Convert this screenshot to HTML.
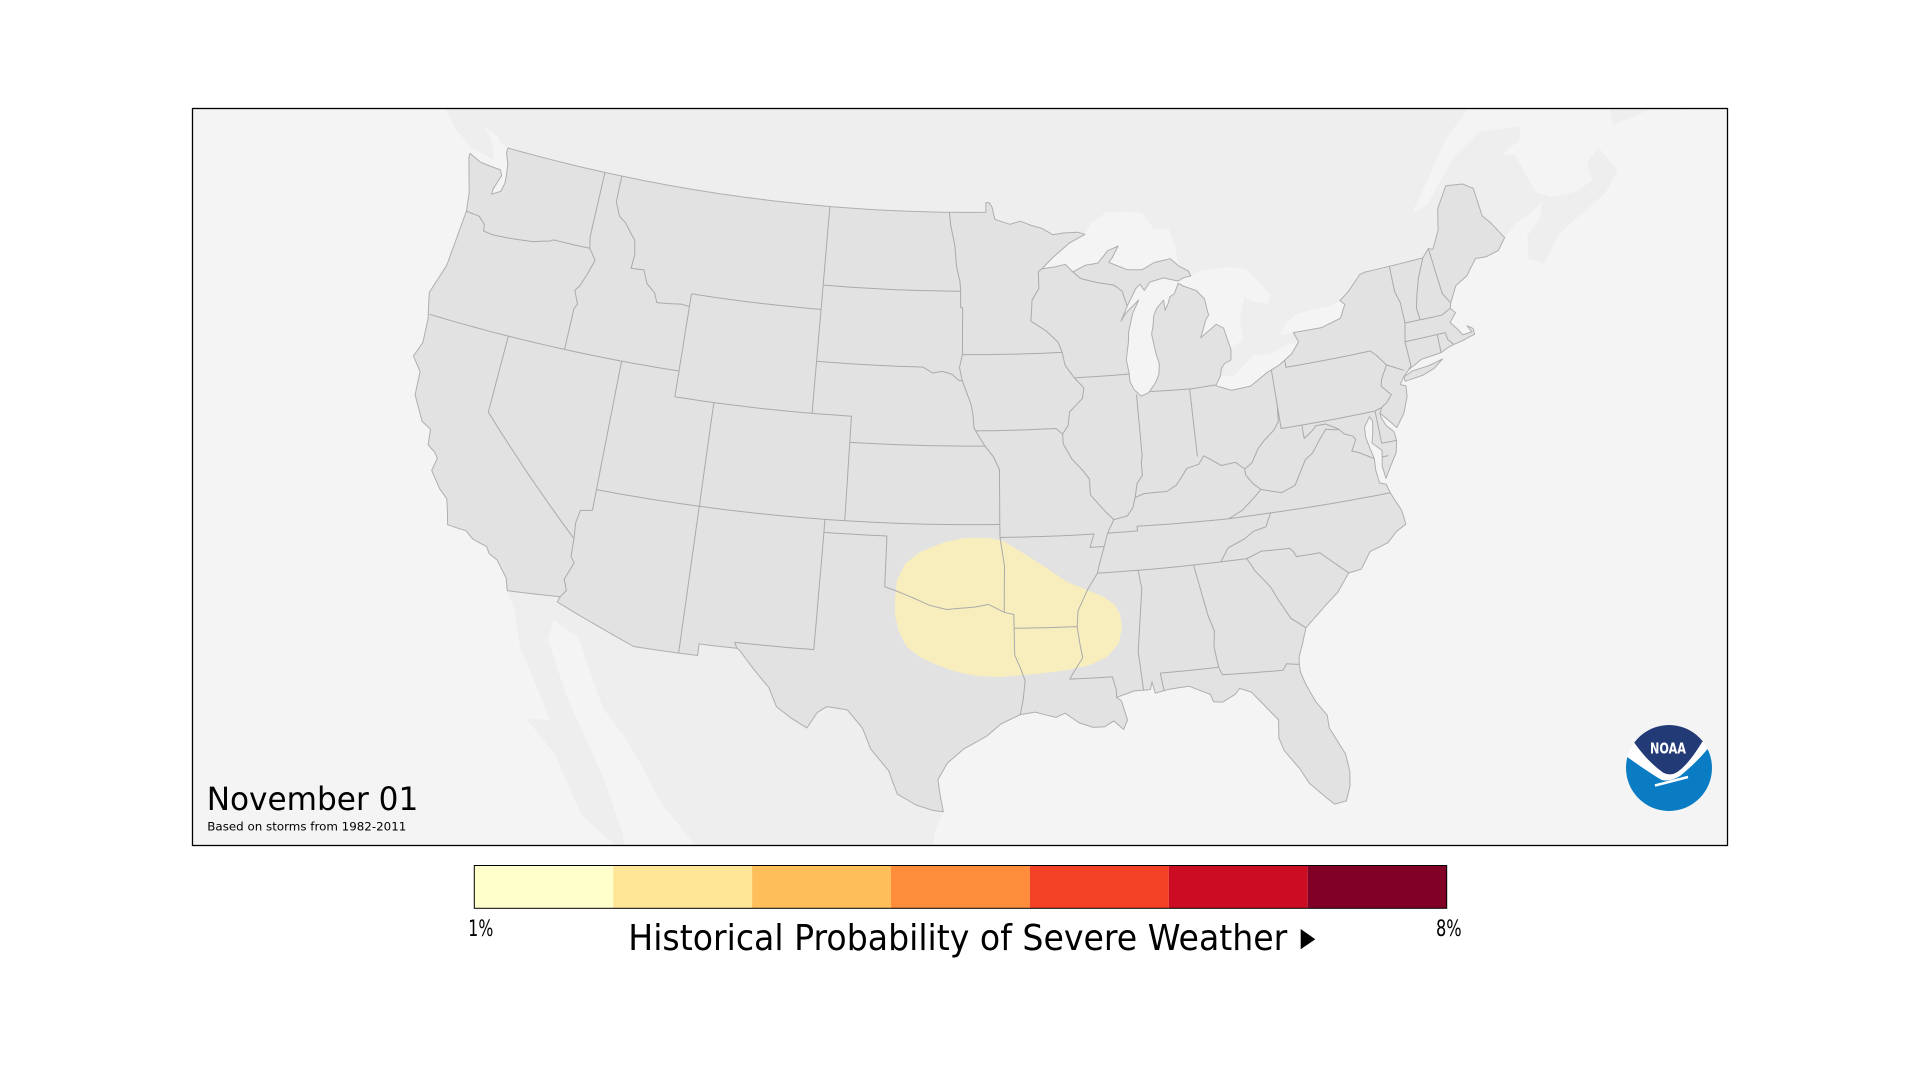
<!DOCTYPE html>
<html>
<head>
<meta charset="utf-8">
<style>
html,body{margin:0;padding:0;background:#fff;width:1920px;height:1080px;overflow:hidden}
svg{display:block}
text{font-family:"DejaVu Sans","Liberation Sans",sans-serif;fill:#000}
</style>
</head>
<body>
<svg id="s" width="1920" height="1080" viewBox="0 0 1920 1080" xmlns="http://www.w3.org/2000/svg">
<defs>
<clipPath id="fr"><rect x="193" y="109" width="1534" height="736"/></clipPath>
<clipPath id="lc"><circle cx="1669" cy="768" r="43"/></clipPath>
</defs>
<rect x="0" y="0" width="1920" height="1080" fill="#ffffff"/>
<g clip-path="url(#fr)">
<rect x="193" y="109" width="1534" height="736" fill="#f4f4f4"/>
<path id="can" fill="#eeeeee" d=""/>
<path id="mex" fill="#eeeeee" d=""/>
<path id="isl" fill="#eeeeee" d=""/>
<path id="lakes" fill="#f4f4f4" d=""/>
<path id="us" fill="#e2e2e2" stroke="#afafaf" stroke-width="1" stroke-linejoin="round" d=""/>
<path id="blob" fill="#f8eebd" d="M990,538 L1003,541 L1023,553 L1045,567 L1067,582 L1087,590 L1104,597 L1114,604 L1120,614 L1122,627 L1119,643 L1107,657 L1090,665 L1067,670 L1045,673 L1023,675 L1000,677 L977,676 L957,672 L937,665 L920,657 L907,647 L899,632 L895,615 L895,598 L897,580 L905,564 L920,552 L945,542 L965,538 Z"/>
<path id="bd" fill="none" stroke="#aaaaaa" stroke-width="1" stroke-linejoin="round" d=""/>
</g>
<rect x="192.5" y="108.5" width="1535" height="737" fill="none" stroke="#000" stroke-width="1.3"/>

<text x="206.7" y="810" font-size="32" textLength="211.6" lengthAdjust="spacingAndGlyphs">November 01</text>
<text x="207.3" y="830.5" font-size="11.5" textLength="199" lengthAdjust="spacingAndGlyphs">Based on storms from 1982-2011</text>

<g clip-path="url(#lc)">
<rect x="1620" y="720" width="100" height="100" fill="#ffffff"/>
<path fill="#0a7cc3" d="M1620,753 L1627,756.7 Q1645,770 1661.7,780 Q1670,782 1680,776 Q1697,762 1707.3,749.3 L1720,742 L1720,820 L1620,820 Z"/>
<path fill="#223a76" d="M1620,720 L1720,720 L1720,738 L1702.3,741.7 Q1690,762 1680,770 Q1672,777 1663.3,772.7 Q1648,762 1634.3,742.7 L1620,738 Z"/>
</g>
<path d="M1655,785.5 L1688,777" stroke="#ffffff" stroke-width="2.5" fill="none"/>
<text x="1650" y="753.3" font-size="15" font-weight="bold" style="fill:#ffffff" textLength="36" lengthAdjust="spacingAndGlyphs">NOAA</text>

<g>
<rect x="474.3" y="865.5" width="138.9" height="42.8" fill="#ffffcc"/>
<rect x="613.2" y="865.5" width="138.9" height="42.8" fill="#ffe596"/>
<rect x="752.1" y="865.5" width="138.9" height="42.8" fill="#febe5a"/>
<rect x="891.0" y="865.5" width="138.9" height="42.8" fill="#fd8c3b"/>
<rect x="1029.9" y="865.5" width="138.9" height="42.8" fill="#f24125"/>
<rect x="1168.8" y="865.5" width="138.9" height="42.8" fill="#cb0c22"/>
<rect x="1307.7" y="865.5" width="139.0" height="42.8" fill="#800026"/>
<rect x="474.3" y="865.5" width="972.4" height="42.8" fill="none" stroke="#000" stroke-width="1"/>
</g>
<text x="468.3" y="936" font-size="22" textLength="25" lengthAdjust="spacingAndGlyphs">1%</text>
<text x="1436" y="936" font-size="22" textLength="25.7" lengthAdjust="spacingAndGlyphs">8%</text>
<text x="628.3" y="950" font-size="36" textLength="659" lengthAdjust="spacingAndGlyphs">Historical Probability of Severe Weather</text>
<polygon points="1300.7,929 1300.7,949.3 1315.3,939.2" fill="#000"/>
</svg>
<script>
(function(){
var n=0.602835,C=1.351219,r=Math.PI/180;
function P(p){var rho=Math.sqrt(C-2*n*Math.sin(p[1]*r))/n,t=n*(p[0]+96)*r;return [970.99+1513.0*rho*Math.sin(t),-1425.11+1486.0*rho*Math.cos(t)];}
function D(pts,close){var s='';for(var i=0;i<pts.length;i++){var a=pts[i];if(i>0){var b=pts[i-1];var m=Math.ceil(Math.max(Math.abs(a[0]-b[0]),Math.abs(a[1]-b[1]))/0.5);for(var k=1;k<m;k++){var q=P([b[0]+(a[0]-b[0])*k/m,b[1]+(a[1]-b[1])*k/m]);s+='L'+q[0].toFixed(1)+','+q[1].toFixed(1);}}var q2=P(a);s+=(i==0?'M':'L')+q2[0].toFixed(1)+','+q2[1].toFixed(1);}return s+(close?'Z':'');}

var WA=[[-124.72,48.38],[-124.0,48.17],[-123.2,48.12],[-122.8,48.1],[-122.65,47.9],[-122.9,47.3],[-122.9,47.1],[-122.45,47.3],[-122.35,47.65],[-122.4,48.0],[-122.5,48.4],[-122.75,48.8],[-122.75,49.0]];
var NORTH=[[-122.75,49.0],[-95.15,49.0],[-95.15,49.38],[-94.95,49.37],[-94.8,49.2],[-94.65,48.72],[-93.8,48.52],[-93.2,48.63],[-92.6,48.45],[-92.0,48.32],[-91.4,48.05],[-90.8,48.1],[-90.0,48.1],[-89.6,48.0],
[-90.5,47.7],[-91.5,47.15],[-92.1,46.75],[-91.4,46.8],[-90.8,46.88],[-90.4,46.57],[-89.7,46.8],[-89.0,46.85],[-88.4,47.3],[-87.8,47.45],[-88.2,47.0],[-88.4,46.85],[-87.4,46.5],[-86.6,46.45],[-85.9,46.68],[-85.0,46.76],[-84.6,46.45],
[-84.1,46.2],[-84.0,46.0],[-84.4,45.97],[-84.72,45.87],[-85.5,46.05],[-86.25,45.95],[-86.6,45.65],[-86.8,45.9],[-87.05,45.75],[-87.6,45.1],
[-88.0,44.55],[-87.7,44.85],[-86.95,45.3],[-87.35,44.8],[-87.5,44.45],[-87.65,44.1],[-87.7,43.75],[-87.9,43.05],[-87.82,42.58],[-87.8,42.2],[-87.62,41.88],[-87.3,41.62],[-86.9,41.72],[-86.48,42.1],[-86.28,42.4],[-86.21,42.78],[-86.34,43.23],[-86.45,43.95],[-86.33,44.25],[-86.24,44.63],[-86.05,44.9],[-85.62,45.2],[-85.6,44.8],[-85.4,45.05],[-85.26,45.3],[-85.0,45.4],[-84.73,45.78],[-84.47,45.65],[-83.82,45.42],[-83.43,45.06],[-83.33,44.42],[-83.5,44.27],[-83.9,43.6],[-83.37,43.85],[-83.0,44.03],[-82.64,43.85],[-82.42,42.98],[-82.5,42.6],[-82.85,42.5],[-83.05,42.33],[-83.15,42.05],[-83.45,41.7],[-82.7,41.45],[-81.7,41.5],[-80.8,41.9],[-80.08,42.13],[-79.76,42.27],[-79.33,42.48],[-78.88,42.88],[-79.06,43.26],[-77.6,43.25],[-76.5,43.46],[-76.12,43.95],[-76.33,44.13],[-75.8,44.4],[-75.0,44.95],[-74.7,45.0],
[-71.5,45.01],[-71.08,45.3],[-70.85,45.23],[-70.3,45.9],[-70.0,46.7],[-69.22,47.46],[-68.3,47.35],[-67.8,47.07],[-67.78,45.95],[-67.45,45.6],[-66.98,44.9]];
var EAST=[[-67.5,44.5],[-68.2,44.4],[-68.8,44.45],[-69.5,43.9],[-70.2,43.65],[-70.7,43.07],[-70.8,42.87],[-70.6,42.65],[-71.0,42.35],[-70.7,42.0],[-70.55,41.77],[-70.05,41.78],[-70.2,42.06],[-69.95,41.9],[-69.95,41.67],[-70.4,41.6],[-70.65,41.55],[-71.1,41.5],[-71.4,41.45],[-71.85,41.32],[-72.9,41.25],[-73.65,40.98],[-74.0,40.75],
[-74.25,40.5],[-73.98,40.4],[-74.05,40.0],[-74.4,39.4],[-74.9,38.93],[-75.2,39.25],[-75.55,39.6],
[-75.55,39.45],[-75.4,39.1],[-75.08,38.8],[-75.05,38.45],[-75.2,38.0],[-75.6,37.55],[-75.95,37.12],
[-76.0,37.6],[-75.85,38.2],[-76.25,38.55],[-76.1,38.95],[-76.0,39.35],[-76.1,39.55],[-76.45,39.2],[-76.5,38.8],[-76.4,38.35],[-76.3,37.95],[-76.35,37.5],[-76.3,37.0],[-76.0,36.9],
[-75.9,36.55],[-75.55,35.8],[-75.5,35.25],[-76.0,35.05],[-76.5,34.7],[-77.4,34.5],[-77.95,33.9],[-78.55,33.85],[-79.2,33.2],[-79.9,32.75],[-80.9,32.05],[-81.15,31.5],[-81.4,31.0],[-81.45,30.7],[-81.45,30.4],[-81.3,29.9],[-81.0,29.2],[-80.6,28.6],[-80.6,28.1],[-80.1,27.0],[-80.05,26.3],[-80.15,25.75],[-80.4,25.2],[-80.9,25.15],[-81.15,25.4],[-81.8,26.1],[-82.1,26.7],[-82.65,27.5],[-82.8,28.0],[-82.7,28.7],[-83.2,29.3],[-83.7,29.9],[-84.2,30.1],[-84.4,29.9],[-85.0,29.65],[-85.4,29.7],[-85.5,30.0],[-86.4,30.4],[-87.3,30.35],[-87.9,30.25],[-88.0,30.7],[-88.1,30.4],[-88.8,30.4],[-89.6,30.2],[-89.4,30.05],[-89.2,29.3],[-89.4,28.95],[-89.8,29.3],[-90.2,29.1],[-90.7,29.1],[-91.3,29.3],[-91.9,29.7],[-92.3,29.55],[-93.2,29.78],[-93.85,29.7],[-94.7,29.35],[-95.3,28.9],[-96.3,28.4],[-97.0,27.85],[-97.4,27.2],[-97.3,26.6]];
var RIO=[[-97.15,25.95],[-97.6,26.0],[-98.3,26.2],[-99.1,26.6],[-99.5,27.5],[-100.3,28.3],[-100.7,29.1],[-101.4,29.77],[-102.3,29.85],[-102.7,29.6],[-103.1,28.97],[-103.8,29.3],[-104.5,29.7],[-104.9,30.4],[-105.6,31.0],[-106.4,31.75],[-106.5,31.78],[-108.2,31.78],[-108.2,31.33],[-111.07,31.33],[-114.8,32.5],[-114.72,32.72],[-117.12,32.53]];
var WEST=[[-117.3,33.0],[-117.9,33.6],[-118.3,33.75],[-118.5,34.0],[-119.2,34.15],[-119.6,34.4],[-120.5,34.45],[-120.65,34.9],[-120.85,35.4],[-121.3,35.7],[-121.9,36.3],[-121.8,36.8],[-122.0,37.0],[-122.4,37.2],[-122.5,37.8],[-123.0,38.0],[-123.7,38.9],[-123.8,39.8],[-124.35,40.3],[-124.1,40.9],[-124.2,41.8],[-124.55,42.8],[-124.1,44.0],[-124.0,45.5],[-123.95,46.2],[-124.1,46.9],[-124.7,48.2]];
var LI=[[-73.97,40.58],[-73.0,40.65],[-72.4,40.8],[-71.86,41.07],[-72.6,40.95],[-73.5,40.9],[-73.97,40.75]];
var US=WA.concat(NORTH,EAST,RIO,WEST);

var MAR=[[-66.1,45.3],[-65.0,45.55],[-64.4,45.8],[-64.9,45.15],[-65.8,44.7],[-66.1,43.85],[-65.4,43.5],[-64.3,44.3],[-63.5,44.6],[-62.0,45.0],[-61.0,45.3],[-60.0,45.9],[-60.5,47.0],[-61.4,46.6],[-61.5,45.9],[-62.5,45.7],[-63.8,45.8],[-64.6,46.2],[-64.8,47.0],[-65.0,47.8],[-65.7,48.0],[-64.5,48.3],[-64.2,48.8],[-66.5,49.1],[-68.2,48.5],[-69.3,47.8],[-70.5,46.95],[-71.2,46.8],[-71.3,46.9],[-70.8,47.3],[-69.7,48.2],[-68.5,49.2],[-66.5,50.2],[-64.0,50.3],[-61.0,50.2],[-58.0,51.2],[-56.0,52.0],[-56,62],[-140,62],[-133,55],[-128,51],[-125.5,49.9],[-123.5,49.3]];
var CAN=[[-123.2,49.1]].concat(NORTH,MAR);
var MEX=RIO.concat([[-116.6,31.85],[-116.0,30.5],[-115.2,29.5],[-114.1,28.0],[-115.08,27.85],[-113.6,26.7],[-112.1,24.6],[-110.2,23.4],[-109.9,22.9],[-110.3,24.15],[-111.35,26.0],[-112.27,27.3],[-113.55,28.95],[-114.85,31.0],[-114.8,31.8],[-113.55,31.3],[-111.95,28.8],[-110.9,27.9],[-109.9,26.8],[-109.0,25.6],[-106.4,23.2],[-105.2,21.5],[-105.3,20.5],[-105.5,17],[-96,17],[-96.1,19.2],[-97.4,21.0],[-97.85,22.2],[-97.7,24.0],[-97.45,25.3]]);
var VAN=[[-123.35,48.4],[-124.7,48.6],[-125.9,49.1],[-127.2,50.0],[-128.4,50.8],[-127.0,50.65],[-125.4,50.3],[-124.8,49.8],[-124.0,49.3],[-123.5,48.8]];
var NFL=[[-59.3,47.6],[-59.0,48.5],[-58.0,49.5],[-57.5,50.7],[-55.5,51.6],[-55.7,49.9],[-53.5,49.5],[-52.6,47.6],[-53.6,46.7],[-55.5,47.1],[-56.5,47.6]];

var SUP=[[-92.1,46.75],[-91.5,47.15],[-90.5,47.7],[-89.6,48.0],[-89.25,48.4],[-88.3,48.8],[-87.3,48.75],[-86.3,48.65],[-85.7,47.95],[-84.9,47.9],[-84.65,47.3],[-84.6,46.45],[-85.0,46.76],[-85.9,46.68],[-86.6,46.45],[-87.4,46.5],[-88.4,46.85],[-88.2,47.0],[-87.8,47.45],[-88.4,47.3],[-89.0,46.85],[-89.7,46.8],[-90.4,46.57],[-90.8,46.88],[-91.4,46.8]];
var MICH=[[-84.72,45.87],[-85.5,46.05],[-86.25,45.95],[-86.6,45.65],[-86.8,45.9],[-87.05,45.75],[-87.6,45.1],[-88.0,44.55],[-87.7,44.85],[-86.95,45.3],[-87.35,44.8],[-87.5,44.45],[-87.65,44.1],[-87.7,43.75],[-87.9,43.05],[-87.82,42.58],[-87.8,42.2],[-87.62,41.88],[-87.3,41.62],[-86.9,41.72],[-86.48,42.1],[-86.28,42.4],[-86.21,42.78],[-86.34,43.23],[-86.45,43.95],[-86.33,44.25],[-86.24,44.63],[-86.05,44.9],[-85.62,45.2],[-85.6,44.8],[-85.4,45.05],[-85.26,45.3],[-85.0,45.4],[-84.73,45.78]];
var HUR=[[-84.73,45.78],[-84.47,45.65],[-83.82,45.42],[-83.43,45.06],[-83.33,44.42],[-83.5,44.27],[-83.9,43.6],[-83.37,43.85],[-83.0,44.03],[-82.64,43.85],[-82.42,42.98],[-81.7,43.35],[-81.72,44.1],[-81.3,44.95],[-80.9,44.7],[-80.1,44.5],[-79.9,44.85],[-80.4,45.4],[-81.0,46.0],[-82.0,46.15],[-83.5,46.15],[-84.0,46.0],[-84.4,45.97],[-84.72,45.87]];
var ERI=[[-83.45,41.7],[-82.7,41.45],[-81.7,41.5],[-80.8,41.9],[-80.08,42.13],[-79.76,42.27],[-79.33,42.48],[-78.88,42.88],[-79.5,42.85],[-80.4,42.6],[-81.3,42.65],[-82.1,42.2],[-82.5,41.95],[-83.15,42.05]];
var ONT=[[-79.06,43.26],[-77.6,43.25],[-76.5,43.46],[-76.12,43.95],[-76.33,44.13],[-76.9,44.0],[-77.6,44.0],[-78.7,43.95],[-79.4,43.65],[-79.8,43.25]];

var B=[
[[-123.95,46.2],[-123.2,46.15],[-122.8,45.9],[-122.75,45.65],[-122.2,45.6],[-121.2,45.65],[-120.0,45.75],[-119.1,45.93],[-118.95,46.0],[-116.92,46.0]],
[[-117.04,49.0],[-117.04,46.42],[-116.92,46.0],[-116.5,45.6],[-116.7,45.1],[-117.0,44.5],[-117.2,44.3],[-116.9,43.8],[-117.03,43.6],[-117.03,42.0]],
[[-124.2,42.0],[-111.05,42.0]],
[[-120.0,42.0],[-120.0,39.0],[-114.63,35.0]],
[[-114.63,35.0],[-114.6,34.3],[-114.4,34.1],[-114.7,33.4],[-114.5,33.0],[-114.72,32.72]],
[[-114.04,42.0],[-114.04,36.2],[-114.6,36.1],[-114.7,35.6],[-114.63,35.0]],
[[-114.04,37.0],[-94.62,37.0]],
[[-116.05,49.0],[-116.05,47.98],[-115.7,47.45],[-115.3,47.25],[-114.6,46.65],[-114.45,46.1],[-114.5,45.57],[-113.8,45.6],[-113.5,45.1],[-113.0,44.8],[-112.8,44.45],[-112.0,44.5],[-111.5,44.55],[-111.05,44.5]],
[[-111.05,45.0],[-111.05,41.0]],
[[-111.05,45.0],[-104.05,45.0]],
[[-104.05,49.0],[-104.05,41.0]],
[[-111.05,41.0],[-102.05,41.0],[-102.05,37.0]],
[[-109.05,41.0],[-109.05,31.33]],
[[-102.05,40.0],[-95.31,40.0]],
[[-103.0,37.0],[-103.0,36.5],[-100.0,36.5],[-100.0,34.56],[-99.4,34.4],[-98.6,34.15],[-97.9,33.9],[-97.1,33.75],[-96.5,33.8],[-95.8,33.85],[-95.2,33.95],[-94.48,33.64]],
[[-103.0,36.5],[-103.06,32.0],[-106.62,32.0],[-106.5,31.78]],
[[-104.05,45.94],[-96.56,45.94]],
[[-97.23,49.0],[-97.15,48.5],[-96.9,47.7],[-96.8,46.9],[-96.6,46.3],[-96.56,45.94],[-96.56,45.3],[-96.45,45.3],[-96.45,43.5],[-96.6,43.0],[-96.45,42.5]],
[[-104.05,43.0],[-98.5,43.0],[-98.0,42.78],[-97.5,42.85],[-97.0,42.75],[-96.6,42.5],[-96.45,42.5]],
[[-96.45,42.5],[-96.2,42.0],[-96.0,41.6],[-95.9,41.2],[-95.85,40.7],[-95.77,40.58],[-95.31,40.0],[-94.9,39.6],[-94.6,39.1],[-94.62,37.0],[-94.62,36.5]],
[[-96.45,43.5],[-91.22,43.5]],
[[-91.22,43.5],[-91.4,43.9],[-92.0,44.35],[-92.8,44.75],[-92.75,45.1],[-92.7,45.55],[-92.3,46.0],[-92.3,46.65],[-92.1,46.75]],
[[-90.4,46.57],[-90.0,46.3],[-89.1,46.1],[-88.2,45.95],[-87.8,45.7],[-87.6,45.1]],
[[-91.22,43.5],[-91.1,43.0],[-90.65,42.5],[-90.2,42.1],[-90.3,41.7],[-91.0,41.2],[-91.1,40.7],[-91.4,40.38],[-91.4,40.0],[-91.0,39.4],[-90.5,38.95],[-90.2,38.6],[-90.2,38.0],[-89.5,37.3],[-89.15,37.0],[-89.5,36.5],[-89.7,36.0],[-90.0,35.3],[-90.1,35.0],[-90.6,34.4],[-91.1,33.6],[-91.17,33.0],[-91.1,32.4],[-91.0,31.8],[-91.63,31.0]],
[[-91.63,31.0],[-89.73,31.0],[-89.6,30.5],[-89.6,30.2]],
[[-90.65,42.5],[-87.8,42.5]],
[[-95.77,40.58],[-91.73,40.6],[-91.4,40.38]],
[[-94.62,36.5],[-90.15,36.5],[-90.37,36.0],[-89.7,36.0]],
[[-94.62,36.5],[-94.43,35.4],[-94.48,33.64],[-94.04,33.55],[-94.04,33.02],[-91.17,33.0]],
[[-94.04,33.02],[-94.04,31.99],[-93.8,31.5],[-93.6,31.0],[-93.7,30.3],[-93.85,29.7]],
[[-89.15,37.0],[-88.5,37.1],[-88.2,37.4],[-88.05,37.78],[-87.6,37.9],[-87.0,37.9],[-86.5,37.9],[-86.0,38.1],[-85.8,38.3],[-85.4,38.7],[-84.8,38.8],[-84.5,39.1],[-83.7,38.65],[-83.0,38.7],[-82.6,38.4],[-82.2,38.6],[-81.8,39.1],[-81.4,39.4],[-80.9,39.7],[-80.6,40.0],[-80.52,40.64]],
[[-87.53,41.7],[-87.53,39.35],[-87.6,39.1],[-87.6,38.6],[-87.9,38.3],[-88.05,37.78]],
[[-86.82,41.76],[-84.8,41.7],[-83.45,41.73]],
[[-84.8,41.7],[-84.82,39.1]],
[[-89.5,36.5],[-88.07,36.5],[-88.07,36.68],[-83.68,36.6],[-81.68,36.6]],
[[-83.68,36.6],[-83.0,36.85],[-82.3,37.3],[-81.97,37.54],[-82.3,37.8],[-82.6,38.17],[-82.6,38.4]],
[[-81.68,36.6],[-82.0,36.1],[-82.6,36.0],[-83.1,35.75],[-83.9,35.5],[-84.32,35.0]],
[[-90.1,35.0],[-83.1,35.0]],
[[-83.1,35.0],[-82.4,35.2],[-81.05,35.15],[-80.9,35.0],[-80.8,34.8],[-79.7,34.8],[-78.55,33.85]],
[[-83.1,35.0],[-82.8,34.5],[-82.2,33.8],[-81.9,33.2],[-81.5,32.5],[-80.9,32.05]],
[[-88.2,35.0],[-88.1,34.3],[-88.5,31.9],[-88.4,30.4]],
[[-85.6,35.0],[-85.2,33.0],[-85.0,32.4],[-85.1,31.8],[-85.0,31.0]],
[[-85.0,31.0],[-87.6,31.0],[-87.5,30.3]],
[[-85.0,31.0],[-84.87,30.7],[-82.2,30.57],[-82.0,30.8],[-81.45,30.7]],
[[-75.9,36.55],[-81.68,36.6]],
[[-81.97,37.54],[-81.0,37.3],[-80.3,37.5],[-80.0,37.9],[-79.6,38.4],[-79.2,38.6],[-78.8,39.0],[-78.35,39.4],[-77.8,39.3],[-77.72,39.32],[-78.3,39.6],[-78.8,39.6],[-79.0,39.45],[-79.48,39.2],[-79.48,39.72]],
[[-75.77,39.72],[-80.52,39.72],[-80.52,42.0]],
[[-79.76,42.27],[-79.76,42.0],[-75.35,42.0],[-75.1,41.8],[-74.7,41.35],[-73.9,41.0]],
[[-74.7,41.35],[-75.1,40.85],[-75.2,40.6],[-74.8,40.2],[-75.1,39.95],[-75.4,39.8],[-75.55,39.6]],
[[-75.4,39.8],[-75.77,39.72],[-75.79,38.46],[-75.05,38.45]],
[[-75.6,37.95],[-75.9,37.95]],
[[-77.72,39.32],[-77.5,39.1],[-77.1,38.95],[-77.0,38.8],[-77.3,38.4],[-77.0,38.3],[-76.3,37.95]],
[[-73.35,45.0],[-73.4,44.0],[-73.25,43.55],[-73.27,42.75],[-73.5,42.05],[-73.5,41.1],[-73.65,40.98]],
[[-73.27,42.75],[-72.46,42.73],[-71.3,42.7],[-70.8,42.87]],
[[-72.46,42.73],[-72.5,43.2],[-72.3,43.7],[-72.0,44.3],[-71.5,45.01]],
[[-70.7,43.07],[-71.0,43.5],[-71.08,45.3]],
[[-73.5,42.05],[-71.38,42.02],[-71.35,41.75],[-71.12,41.5]],
[[-71.8,42.02],[-71.85,41.32]]
];
function set(id,d){document.getElementById(id).setAttribute('d',d);}
set('can',D(CAN,1));
set('mex',D(MEX,1));
set('isl',D(VAN,1)+D(NFL,1));
set('lakes',D(SUP,1)+D(MICH,1)+D(HUR,1)+D(ERI,1)+D(ONT,1));
set('us',D(US,1)+D(LI,1));
var s='';for(var i=0;i<B.length;i++){s+=D(B[i],0);}
set('bd',s);
})();
</script>
</body>
</html>
